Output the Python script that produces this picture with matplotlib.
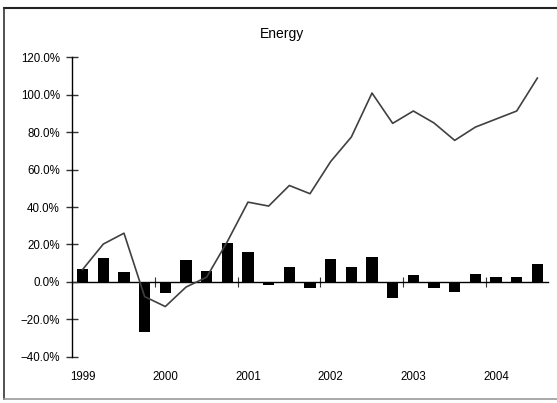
import numpy as np
import matplotlib.pyplot as plt
from matplotlib.lines import Line2D
from matplotlib.ticker import PercentFormatter

# quarterly returns (bars) and cumulative return (line), 1999Q1 .. 2004Q3
years = ['1999', '2000', '2001', '2002', '2003', '2004']
quarterly = [6.8, 12.7, 5.2, -26.7, -6.1, 11.8, 5.9, 20.7, 15.7, -1.8, 8.2, -3.4,
             12.1, 8.2, 13.2, -8.4, 3.7, -3.4, -5.5, 4.4, 2.5, 2.5, 9.6]
cumulative = [6.6, 20.2, 26.0, -7.9, -13.2, -2.8, 2.5, 21.5, 42.6, 40.5, 51.5, 47.1,
              64.3, 77.4, 100.9, 84.7, 91.3, 84.9, 75.6, 82.7, 87.0, 91.3, 108.9]

plt.rcParams['font.family'] = ['Liberation Sans', 'DejaVu Sans']

fig = plt.figure(figsize=(5.57, 4.03), dpi=100)
ax = fig.add_axes([0.1298, 0.1149, 0.8535, 0.7429])

x = np.arange(len(quarterly))
ax.bar(x, quarterly, width=0.55, color='black', zorder=2)
ax.plot(x, cumulative, color='#404040', lw=1.2, zorder=3)

ax.set_xlim(-0.5, len(quarterly) - 0.5)
ax.set_ylim(-40, 120)
ax.set_yticks(np.arange(-40, 121, 20))
ax.yaxis.set_major_formatter(PercentFormatter(decimals=1))
ax.tick_params(axis='y', direction='inout', length=8, width=1, color='#333333',
               labelsize=8.3, pad=5)

# year labels under the plot, one every four quarters
ax.set_xticks(np.arange(0, len(quarterly), 4))
ax.set_xticklabels(years)
ax.tick_params(axis='x', length=0, labelsize=8.3, pad=10)

for s in ['top', 'right', 'bottom']:
    ax.spines[s].set_visible(False)
ax.spines['left'].set_linewidth(1)

# zero line with year boundary ticks
zero = ax.secondary_xaxis(40 / 160)
zero.set_xticks(np.arange(4, len(quarterly), 4) - 0.5)
zero.set_xticklabels([])
zero.tick_params(direction='inout', length=7, width=0.8, color='#333333')
zero.spines['bottom'].set_linewidth(1)

fig.text(0.506, 0.916, 'Energy', ha='center', va='center', fontsize=10)

# chart border (right edge falls outside the picture)
L, T, B = 3.5 / 557, 1 - 7.5 / 403, 4.5 / 403
fig.lines.append(Line2D([L, 1], [T, T], transform=fig.transFigure, color='#222222', lw=1.5))
fig.lines.append(Line2D([L, L], [B, T], transform=fig.transFigure, color='#333333', lw=1.2))
fig.lines.append(Line2D([L, 1], [B, B], transform=fig.transFigure, color='#999999', lw=1.2))

fig.savefig('out.png', dpi=100)
